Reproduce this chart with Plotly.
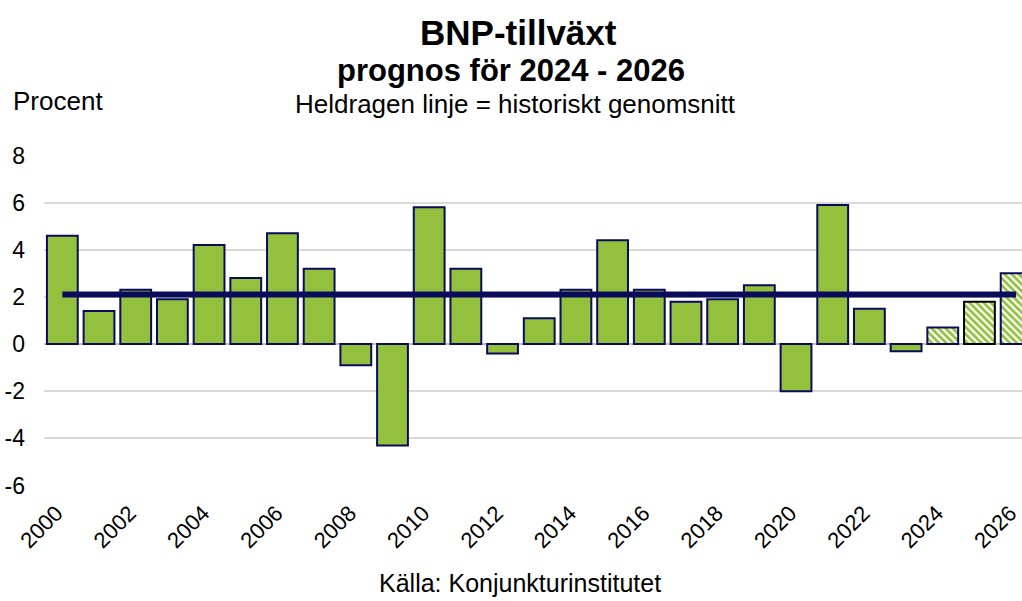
import plotly.graph_objects as go

years = list(range(2000, 2027))
growth = [4.6, 1.4, 2.3, 1.9, 4.2, 2.8, 4.7, 3.2, -0.9, -4.3,
          5.8, 3.2, -0.4, 1.1, 2.3, 4.4, 2.3, 1.8, 1.9, 2.5,
          -2.0, 5.9, 1.5, -0.3, 0.7, 1.8, 3.0]
forecast_years = [2024, 2025, 2026]
historical_avg = 2.1
avg_span = [2000, 2026]
tick_years = list(range(2000, 2027, 2))
y_ticks = [-6, -4, -2, 0, 2, 4, 6, 8]
y_ticklabels = ["-6", "-4", "-2", "0", "2", "4", "6", "8"]

GREEN = "#93c13e"
NAVY = "#0b0b5c"

hist_x = [y for y in years if y not in forecast_years]
hist_y = [g for y, g in zip(years, growth) if y not in forecast_years]
fc_x = [y for y in years if y in forecast_years]
fc_y = [g for y, g in zip(years, growth) if y in forecast_years]
fc_line = [("#000000" if y == 2025 else NAVY) for y in fc_x]

fig = go.Figure()
fig.add_trace(go.Bar(
    x=hist_x, y=hist_y,
    marker=dict(color=GREEN, line=dict(color=NAVY, width=2)),
    width=0.84, showlegend=False,
))
fig.add_trace(go.Bar(
    x=fc_x, y=fc_y,
    marker=dict(color="white", line=dict(color=fc_line, width=2),
                pattern=dict(shape="\\", fgcolor=GREEN, bgcolor="white",
                             fgopacity=1, size=5, solidity=0.55)),
    width=0.84, showlegend=False,
))
fig.add_trace(go.Scatter(
    x=avg_span, y=[historical_avg] * len(avg_span), mode="lines",
    line=dict(color=NAVY, width=6), showlegend=False,
))

font_family = "Liberation Sans, Arial, sans-serif"

fig.update_layout(
    width=1022, height=601,
    margin=dict(l=44, r=0, t=155, b=115, autoexpand=False),
    paper_bgcolor="white", plot_bgcolor="white",
    barmode="overlay",
    font=dict(family=font_family, color="#000000", size=23),
    xaxis=dict(
        range=[1999.5, 2026.16], tickmode="array", tickvals=tick_years,
        ticktext=[str(t) for t in tick_years], tickangle=-45,
        showgrid=False, zeroline=False, showline=False, ticks="",
        tickfont=dict(size=22), ticklabelstandoff=9, ticklabelshift=-6,
        ticklabeloverflow="allow", automargin=False,
    ),
    yaxis=dict(
        range=[-6.02, 8.02], tickmode="array", tickvals=y_ticks,
        ticktext=y_ticklabels,
        showgrid=True, gridcolor="#d9d9d9", gridwidth=1.5,
        zeroline=True, zerolinecolor="#bfbfbf", zerolinewidth=2,
        showline=False, ticks="", tickfont=dict(size=23),
        ticklabelstandoff=18, automargin=False,
    ),
    annotations=[
        dict(text="<b>BNP-tillväxt</b>", xanchor="center", yanchor="middle",
             showarrow=False, font=dict(size=35)),
        dict(text="<b>prognos för 2024 - 2026</b>", xanchor="center",
             yanchor="middle", showarrow=False, font=dict(size=31)),
        dict(text="Heldragen linje = historiskt genomsnitt", xanchor="center",
             yanchor="middle", showarrow=False, font=dict(size=26)),
        dict(text="Procent", xanchor="left", yanchor="middle",
             showarrow=False, font=dict(size=26)),
        dict(text="Källa: Konjunkturinstitutet", xanchor="center",
             yanchor="middle", showarrow=False, font=dict(size=25)),
    ],
)

# position texts by pixel centres (converted to paper coordinates)
plot_top, plot_bottom = 155, 601 - 115
plot_h = plot_bottom - plot_top
plot_left, plot_w = 44, 1022 - 44

def py(pix):
    return (plot_bottom - pix) / plot_h

def px(pix):
    return (pix - plot_left) / plot_w

centres = [(518, 32), (511, 70), (515, 104), (11, 101), (520, 583)]
anns = list(fig.layout.annotations)
for a, (cx, cy) in zip(anns, centres):
    a.y = py(cy)
    a.x = px(cx)
    a.xref = "paper"
    a.yref = "paper"
fig.layout.annotations = anns

fig.write_html("out.html", config={"displayModeBar": False},
               post_script="document.body.style.margin='0';"
                           "document.body.style.overflow='hidden';")
